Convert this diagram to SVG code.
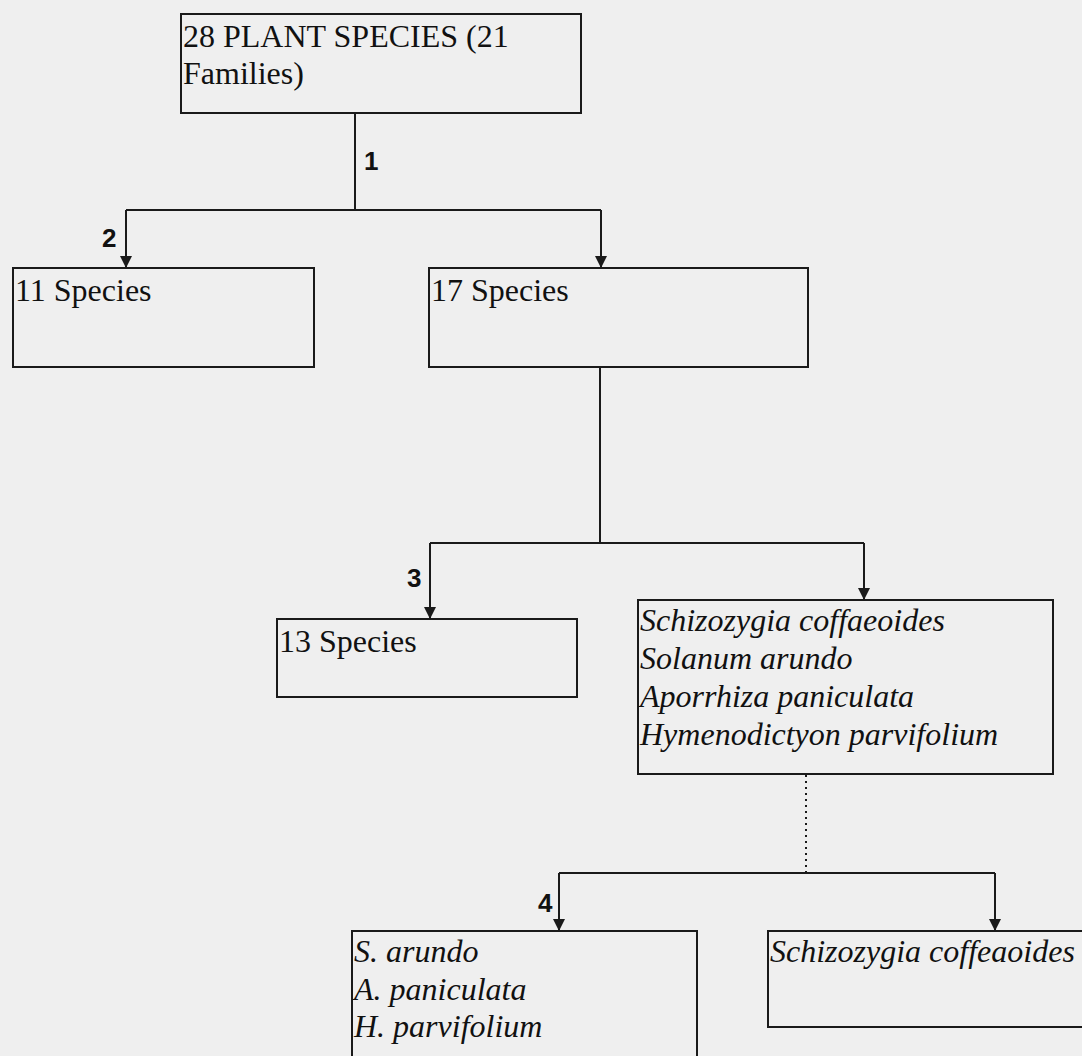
<svg xmlns="http://www.w3.org/2000/svg" width="1082" height="1056" viewBox="0 0 1082 1056">
<style>
.box{fill:none;stroke:#1a1a1a;stroke-width:2}
.ln{fill:none;stroke:#1a1a1a;stroke-width:2}
.dot{fill:none;stroke:#1a1a1a;stroke-width:2;stroke-dasharray:2 4}
.t{font-family:"Liberation Serif","Times New Roman",serif;font-size:32px;fill:#111}
.i{font-family:"Liberation Serif","Times New Roman",serif;font-size:32px;font-style:italic;fill:#111}
.n{font-family:"Liberation Sans",Arial,sans-serif;font-size:26px;font-weight:bold;fill:#111}
</style>
<defs>
<marker id="ah" viewBox="0 0 10 10" refX="10" refY="5" markerWidth="6" markerHeight="6" orient="auto" markerUnits="strokeWidth">
<path d="M0,0 L10,5 L0,10 z" fill="#1a1a1a"/>
</marker>
</defs>
<rect x="0" y="0" width="1082" height="1056" fill="#efefef"/>
<g id="connectors">
<path class="ln" d="M355,113 V210"/>
<path class="ln" d="M126,210 H601"/>
<path class="ln" d="M126,210 V268" marker-end="url(#ah)"/>
<path class="ln" d="M601,210 V268" marker-end="url(#ah)"/>
<path class="ln" d="M600,367 V543"/>
<path class="ln" d="M430,543 H864"/>
<path class="ln" d="M430,543 V619" marker-end="url(#ah)"/>
<path class="ln" d="M864,543 V600" marker-end="url(#ah)"/>
<path class="dot" d="M806,775 V873"/>
<path class="ln" d="M559,873 H995"/>
<path class="ln" d="M559,873 V931" marker-end="url(#ah)"/>
<path class="ln" d="M995,873 V931" marker-end="url(#ah)"/>
<text class="n" x="364" y="170">1</text>
<text class="n" x="102" y="247">2</text>
<text class="n" x="407" y="587">3</text>
<text class="n" x="538" y="912">4</text>
</g>
<g id="node-root">
<rect class="box" x="181" y="14" width="400" height="99"/>
<text class="t" x="183" y="47">28 PLANT SPECIES (21</text>
<text class="t" x="183" y="84">Families)</text>
</g>
<g id="node-11">
<rect class="box" x="13" y="268" width="301" height="99"/>
<text class="t" x="15" y="301">11 Species</text>
</g>
<g id="node-17">
<rect class="box" x="429" y="268" width="379" height="99"/>
<text class="t" x="431" y="301">17 Species</text>
</g>
<g id="node-13">
<rect class="box" x="277" y="619" width="300" height="78"/>
<text class="t" x="279" y="652">13 Species</text>
</g>
<g id="node-four">
<rect class="box" x="638" y="600" width="415" height="174"/>
<text class="i" x="640" y="631">Schizozygia coffaeoides</text>
<text class="i" x="640" y="669">Solanum arundo</text>
<text class="i" x="640" y="707">Aporrhiza paniculata</text>
<text class="i" x="640" y="745">Hymenodictyon parvifolium</text>
</g>
<g id="node-three">
<rect class="box" x="352" y="931" width="345" height="140"/>
<text class="i" x="354" y="962">S. arundo</text>
<text class="i" x="354" y="1000">A. paniculata</text>
<text class="i" x="354" y="1037">H. parvifolium</text>
</g>
<g id="node-sc">
<rect class="box" x="768" y="931" width="320" height="96"/>
<text class="i" x="770" y="962">Schizozygia coffeaoides</text>
</g>
</svg>
